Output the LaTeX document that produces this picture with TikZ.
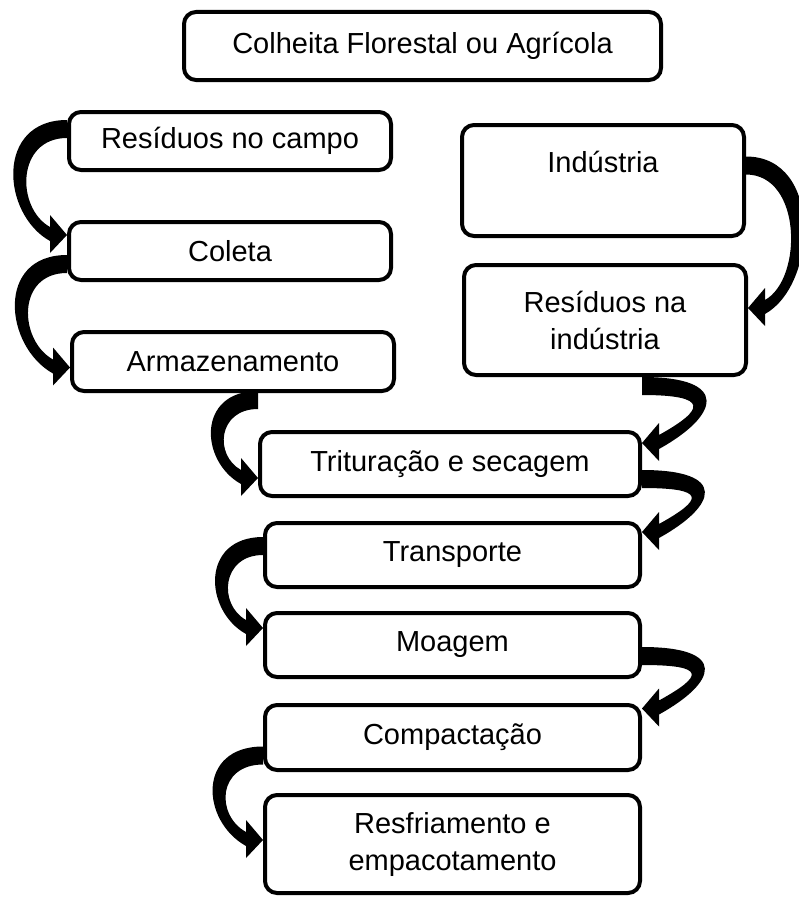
\documentclass[tikz,border=0pt]{standalone}
\usepackage{fontspec}
\setmainfont{Liberation Sans}
\usetikzlibrary{calc}
\tikzset{
    stagebox/.style={draw=black, line width=4pt, rounded corners=12pt, fill=white, align=center, inner sep=0pt, font=\fontsize{29}{37}\selectfont},
    larrow/.style={to path={
        ($(\tikztostart)+(0,-9)$)
        .. controls ($(\tikztostart)+(-1.33*#1,-9)$) and ($(\tikztotarget)+(-17-0.9*#1,6-0.5*#1)$) .. ($(\tikztotarget)+(-17,6)$)
        -- ($(\tikztotarget)+(-17,18)$) -- (\tikztotarget) -- ($(\tikztotarget)+(-17,-20)$) -- ($(\tikztotarget)+(-17,-8)$)
        .. controls ($(\tikztotarget)+(-2.6-0.9*#1,-0.5*#1)$) and ($(\tikztostart)+(21-1.33*#1,9)$) .. ($(\tikztostart)+(0,9)$)
        -- cycle
    }},
    rarrow/.style={to path={
        ($(\tikztostart)+(0,-9)$)
        .. controls ($(\tikztostart)+(1.33*#1,-9)$) and ($(\tikztotarget)+(17+0.9*#1,6-0.5*#1)$) .. ($(\tikztotarget)+(17,6)$)
        -- ($(\tikztotarget)+(17,18)$) -- (\tikztotarget) -- ($(\tikztotarget)+(17,-20)$) -- ($(\tikztotarget)+(17,-8)$)
        .. controls ($(\tikztotarget)+(2.6+0.9*#1,-0.5*#1)$) and ($(\tikztostart)+(1.33*#1-21,9)$) .. ($(\tikztostart)+(0,9)$)
        -- cycle
    }},
}

\begin{document}
\begin{tikzpicture}[x=1pt, y=-1pt]
    \useasboundingbox (0,0) rectangle (798,899);
    \newcommand\posL{230}
    \newcommand\posR{604}
    \newcommand\posM{452.5}

    \node[stagebox, minimum width=477, minimum height=68] (top) at (422.5, 46){Colheita Florestal ou Agrícola};

    \node[stagebox, minimum width=322, minimum height=58] (res) at (\posL, 141){Resíduos no campo};
    \node[stagebox, minimum width=322, minimum height=58] (col) at (\posL, 251){Coleta};
    \node[stagebox, minimum width=322, minimum height=59] (arm) at (\posL+3, 361.5){Armazenamento};

    \node[stagebox, minimum width=282, minimum height=111] (ind) at (\posR-1, 180.5){Indústria\\~};
    \node[stagebox, minimum width=282, minimum height=110] (resind) at (\posR+1, 320){Resíduos na\\indústria};

    \node[stagebox, minimum width=380, minimum height=64] (tri) at (450, 464){Trituração e secagem};
    \node[stagebox, minimum width=375, minimum height=64] (tran) at (\posM, 555){Transporte};
    \node[stagebox, minimum width=375, minimum height=64] (moa) at (\posM, 645){Moagem};
    \node[stagebox, minimum width=375, minimum height=65] (comp) at (\posM, 737.5){Compactação};
    \node[stagebox, minimum width=375, minimum height=98] (resf) at (\posM, 844){Resfriamento e\\empacotamento};

    \coordinate (sRes) at ($(res.west)+(0,-12)$);
    \coordinate (tCol) at ($(col.west)+(0,-16)$);
    \coordinate (sCol) at ($(col.west)+(0,13)$);
    \coordinate (tArm) at ($(arm.west)+(0,6)$);
    \coordinate (sArm) at ($(tri.north west)+(0,-30)$);
    \coordinate (tTri) at ($(tri.west)+(0,14)$);
    \coordinate (sTran) at ($(tran.west)+(0,-9)$);
    \coordinate (tMoa) at ($(moa.west)+(0,-17)$);
    \coordinate (sComp) at ($(comp.west)+(0,18)$);
    \coordinate (tResf) at ($(resf.west)+(0,-4)$);

    \coordinate (sInd) at ($(ind.east)+(0,-15)$);
    \coordinate (tResInd) at ($(resind.east)+(0,-12)$);
    \coordinate (sResInd) at ($(tri.north east)+(0,-44)$);
    \coordinate (tTriR) at ($(tri.east)+(0,-21)$);
    \coordinate (sTri) at ($(tri.east)+(0,15)$);
    \coordinate (tTran) at ($(tran.east)+(0,-23)$);
    \coordinate (sMoa) at ($(moa.east)+(0,11)$);
    \coordinate (tComp) at ($(comp.east)+(0,-29)$);

    \fill[larrow=54] (sRes) to (tCol);
    \fill[larrow=54] (sCol) to (tArm);
    \fill[larrow=46] (sArm) to (tTri);
    \fill[larrow=47] (sTran) to (tMoa);
    \fill[larrow=50] (sComp) to (tResf);

    \fill[rarrow=58] (sInd) to (tResInd);
    \fill[rarrow=67] (sResInd) to (tTriR);
    \fill[rarrow=65] (sTri) to (tTran);
    \fill[rarrow=65] (sMoa) to (tComp);
\end{tikzpicture}
\end{document}
